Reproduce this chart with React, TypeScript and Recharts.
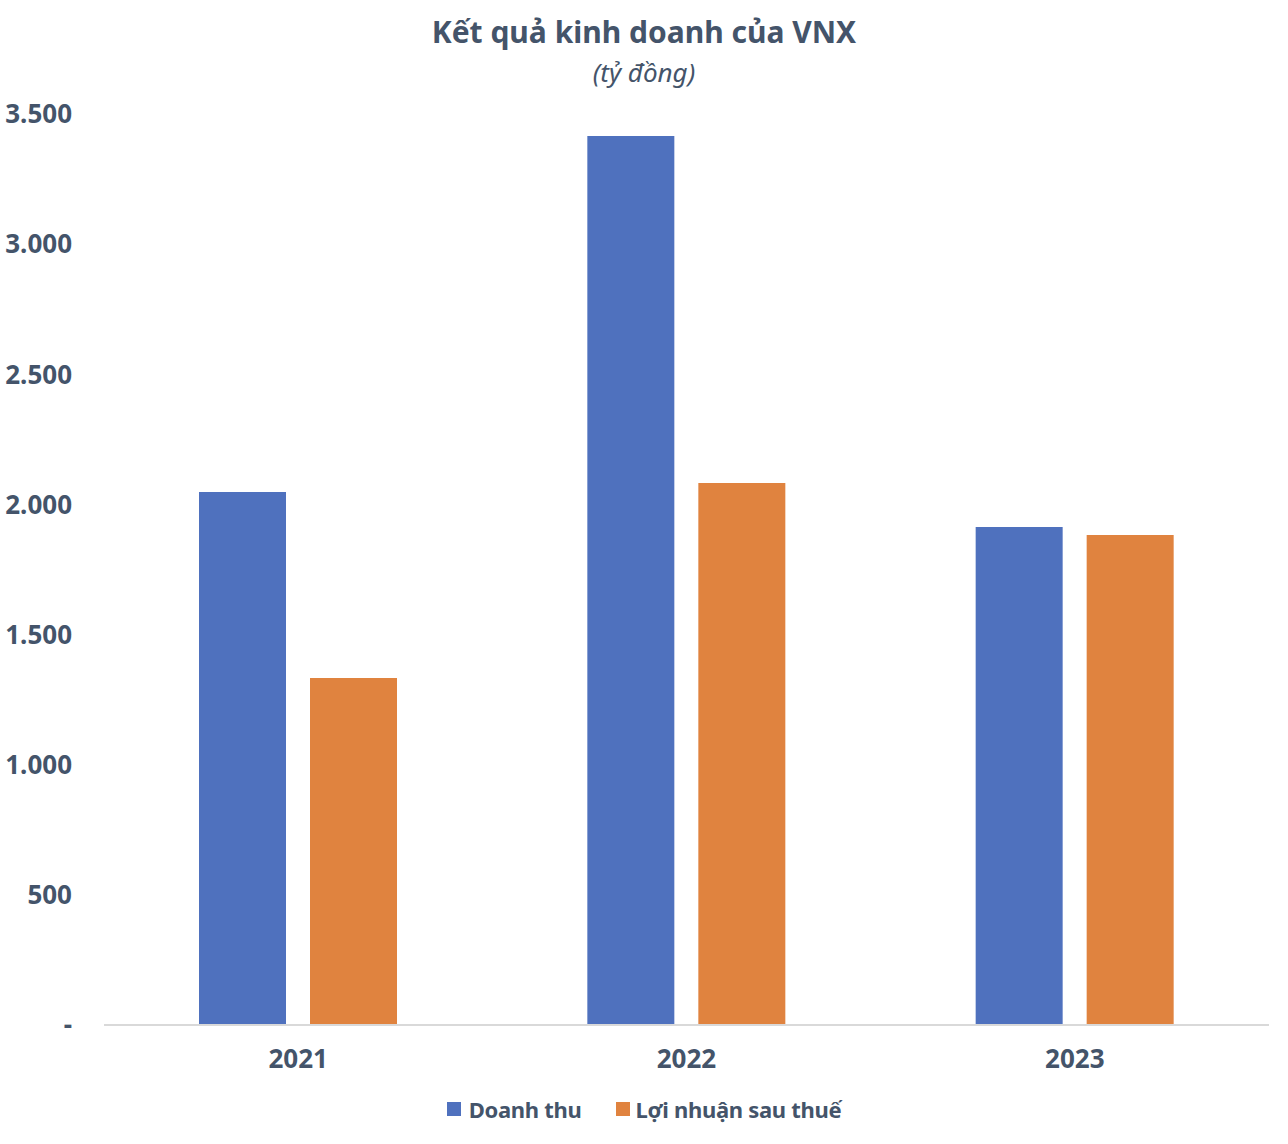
import React from "react";
import { BarChart, Bar, XAxis, YAxis, Legend } from "recharts";

const categories = ["2021", "2022", "2023"];
const revenue = [2048, 3415, 1913];
const profit = [1333, 2082, 1883];
const yTicks = [0, 500, 1000, 1500, 2000, 2500, 3000, 3500];
const seriesNames = ["Doanh thu", "Lợi nhuận sau thuế"];
const title = "Kết quả kinh doanh của VNX";
const subtitle = "(tỷ đồng)";

const data = categories.map((c, i) => ({ year: c, revenue: revenue[i], profit: profit[i] }));

const FONT = '"Noto Sans", sans-serif';
const TEXT = "#44546A";
const BLUE = "#4F71BE";
const ORANGE = "#E0833F";

const fmt = (v: number) => (v === 0 ? "-" : v.toLocaleString("de-DE"));

const LegendContent = () => (
  <div style={{ display: "flex", justifyContent: "center", alignItems: "center", fontFamily: FONT, fontWeight: 700, fontSize: 22, color: TEXT, letterSpacing: -0.3 }}>
    <span style={{ display: "inline-block", width: 14, height: 14, background: BLUE, marginRight: 8 }} />
    <span style={{ marginRight: 34 }}>{seriesNames[0]}</span>
    <span style={{ display: "inline-block", width: 14, height: 14, background: ORANGE, marginRight: 6 }} />
    <span>{seriesNames[1]}</span>
  </div>
);

export default function App() {
  return (
    <div style={{ position: "absolute", left: 0, top: 0, width: 1288, height: 1144, background: "#fff" }}>
      <div style={{ position: "absolute", top: 12, left: 0, width: 1288, textAlign: "center", fontFamily: FONT, fontWeight: 700, fontSize: 30, color: TEXT, lineHeight: "40px" }}>
        {title}
      </div>
      <div style={{ position: "absolute", top: 55, left: 0, width: 1288, textAlign: "center", fontFamily: FONT, fontStyle: "italic", fontSize: 26, color: TEXT, lineHeight: "34px" }}>
        {subtitle}
      </div>
      <BarChart
        width={1288}
        height={1144}
        data={data}
        margin={{ top: 114, right: 19, bottom: 59, left: 14 }}
        barSize={87}
        barGap={24}
        style={{ position: "absolute", left: 0, top: 0 }}
      >
        <XAxis
          dataKey="year"
          height={60}
          tickLine={false}
          tickSize={0}
          tickMargin={25}
          axisLine={{ stroke: "#D9D9D9", strokeWidth: 2 }}
          tick={{ fill: TEXT, fontFamily: FONT, fontWeight: 700, fontSize: 26 }}
        />
        <YAxis
          width={90}
          domain={[0, 3500]}
          ticks={yTicks}
          interval={0}
          axisLine={false}
          tickLine={false}
          tickSize={0}
          tickMargin={32}
          tickFormatter={fmt}
          tick={{ fill: TEXT, fontFamily: FONT, fontWeight: 700, fontSize: 26 }}
        />
        <Legend
          layout="horizontal"
          verticalAlign="middle"
          align="center"
          content={<LegendContent />}
          wrapperStyle={{ position: "absolute", top: 1094, left: 0, width: 1288 }}
        />
        <Bar dataKey="revenue" name={seriesNames[0]} fill={BLUE} isAnimationActive={false} />
        <Bar dataKey="profit" name={seriesNames[1]} fill={ORANGE} isAnimationActive={false} />
      </BarChart>
    </div>
  );
}
